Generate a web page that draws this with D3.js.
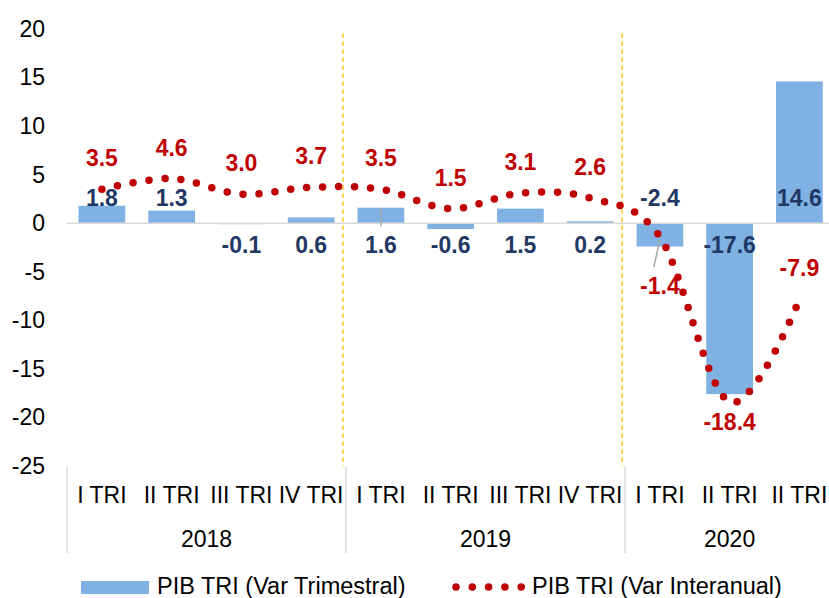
<!DOCTYPE html>
<html>
<head>
<meta charset="utf-8">
<script src="https://cdn.jsdelivr.net/npm/d3@7"></script>
<style>
  body { margin: 0; background: #fff; }
  svg { display: block; font-family: "Liberation Sans", Arial, sans-serif; }
</style>
</head>
<body>
<div id="chart"></div>
<script>

// quarters on the x axis (the last one reads "II TRI" in the original too)
var quarters = ["I TRI", "II TRI", "III TRI", "IV TRI",
                "I TRI", "II TRI", "III TRI", "IV TRI",
                "I TRI", "II TRI", "II TRI"];
var years = ["2018", "2019", "2020"];
var yearOfQuarter = [0, 0, 0, 0, 1, 1, 1, 1, 2, 2, 2];

// PIB TRI (Var Trimestral) - bars
var varTrimestral = [1.8, 1.3, -0.1, 0.6, 1.6, -0.6, 1.5, 0.2, -2.4, -17.6, 14.6];
// PIB TRI (Var Interanual) - dotted line
var varInteranual = [3.5, 4.6, 3.0, 3.7, 3.5, 1.5, 3.1, 2.6, -1.4, -18.4, -7.9];

var yTicks = [20, 15, 10, 5, 0, -5, -10, -15, -20, -25];

// where the labels were dragged to in the original
var barLabelSide  = ["up", "up", "down", "down", "down", "down", "down", "down", "up", "down", "up"];
var lineLabelDy   = [-31, -31, -31, -31, -31, -31, -31, -31, 49, 20, -32];

var width = 829, height = 598;
var plotLeft = 67, plotTop = 29, plotBottom = 466;

var navy = "#1f3864", red = "#c00000", blue = "#80b1e3", grid = "#d9d9d9";

// plain hyphen for negatives, like the original
var fmt = function(d, dec) { return dec ? d.toFixed(dec) : String(d); };

var svg = d3.select("#chart").append("svg").attr("width", width).attr("height", height);

var x = d3.scaleBand()
    .domain(d3.range(quarters.length))
    .range([plotLeft, plotLeft + quarters.length * 69.75])
    .paddingInner(0.33).paddingOuter(0.165);
var step = x.step();
var cx = function(i) { return x(i) + x.bandwidth() / 2; };

var y = d3.scaleLinear().domain([-25, 20]).range([plotBottom, plotTop]);

// y axis labels (no axis line)
var yAxis = d3.axisLeft(y).tickValues(yTicks).tickSize(0).tickPadding(0)
              .tickFormat(function(d) { return fmt(d); });
svg.append("g")
   .attr("transform", "translate(45,0)")
   .call(yAxis)
   .call(function(g) { g.select(".domain").remove(); })
   .selectAll("text")
   .attr("font-size", 23).attr("fill", "#000")
   .attr("font-family", "Liberation Sans, Arial, sans-serif");

// year separators (yellow dashed)
[4, 8].forEach(function(i) {
  var xs = plotLeft + i * step - 3;
  svg.append("line")
     .attr("x1", xs).attr("x2", xs).attr("y1", 33).attr("y2", plotBottom)
     .attr("stroke", "#ffc000").attr("stroke-width", 1.2).attr("stroke-dasharray", "5,3");
});

// bars
svg.selectAll("rect.bar").data(varTrimestral).enter().append("rect")
   .attr("class", "bar")
   .attr("x", function(d, i) { return x(i); })
   .attr("width", x.bandwidth())
   .attr("y", function(d) { return y(Math.max(0, d)); })
   .attr("height", function(d) { return Math.abs(y(d) - y(0)); })
   .attr("fill", blue);

// zero line
svg.append("line")
   .attr("x1", plotLeft).attr("x2", width).attr("y1", y(0)).attr("y2", y(0))
   .attr("stroke", grid).attr("stroke-width", 1.5);

// category axis separators
[0, 4, 8].forEach(function(i) {
  var xs = plotLeft + i * step;
  svg.append("line")
     .attr("x1", xs).attr("x2", xs).attr("y1", plotBottom + 1).attr("y2", 553)
     .attr("stroke", grid).attr("stroke-width", 1.5);
});

// quarter labels
svg.selectAll("text.q").data(quarters).enter().append("text")
   .attr("class", "q")
   .attr("x", function(d, i) { return cx(i); })
   .attr("y", 503)
   .attr("text-anchor", "middle").attr("font-size", 23).attr("fill", "#000")
   .text(function(d) { return d; });

// year labels
svg.selectAll("text.yr").data(years).enter().append("text")
   .attr("class", "yr")
   .attr("x", function(d, j) {
     var idx = d3.range(quarters.length).filter(function(i) { return yearOfQuarter[i] === j; });
     return (plotLeft + idx[0] * step + plotLeft + (idx[idx.length - 1] + 1) * step) / 2;
   })
   .attr("y", 547)
   .attr("text-anchor", "middle").attr("font-size", 23).attr("fill", "#000")
   .text(function(d) { return d; });

// leader lines
svg.append("line").attr("x1", cx(4)).attr("x2", cx(4)).attr("y1", y(1.6)).attr("y2", y(0) + 3)
   .attr("stroke", "#a6a6a6").attr("stroke-width", 1.5);
svg.append("line").attr("x1", cx(8)).attr("x2", cx(8) - 6).attr("y1", y(-1.4) + 3).attr("y2", y(-1.4) + 30)
   .attr("stroke", "#a6a6a6").attr("stroke-width", 1.5);

// interanual dotted smooth line
var line = d3.line()
    .x(function(d, i) { return cx(i); })
    .y(function(d) { return y(d); })
    .curve(d3.curveCardinal.tension(0));

svg.append("path")
   .datum(varInteranual)
   .attr("d", line)
   .attr("fill", "none")
   .attr("stroke", red).attr("stroke-width", 7.5)
   .attr("stroke-linecap", "round").attr("stroke-dasharray", "0,16");

// bar labels
svg.selectAll("text.bl").data(varTrimestral).enter().append("text")
   .attr("class", "bl")
   .attr("x", function(d, i) { return cx(i); })
   .attr("y", function(d, i) { return barLabelSide[i] === "up" ? y(0) - 25 : y(0) + 22; })
   .attr("dy", "0.35em")
   .attr("text-anchor", "middle").attr("font-size", 23).attr("font-weight", "bold")
   .attr("fill", navy)
   .text(function(d) { return fmt(d, 1); });

// line labels
svg.selectAll("text.ll").data(varInteranual).enter().append("text")
   .attr("class", "ll")
   .attr("x", function(d, i) { return cx(i); })
   .attr("y", function(d, i) { return y(d) + lineLabelDy[i]; })
   .attr("dy", "0.35em")
   .attr("text-anchor", "middle").attr("font-size", 23).attr("font-weight", "bold")
   .attr("fill", red)
   .text(function(d) { return fmt(d, 1); });

// legend
var legend = svg.append("g");
legend.append("rect").attr("x", 81).attr("y", 581).attr("width", 68).attr("height", 13).attr("fill", blue);
legend.append("text").attr("x", 157).attr("y", 594).attr("font-size", 23.5).attr("fill", "#000")
      .text("PIB TRI (Var Trimestral)");
legend.append("line").attr("x1", 456).attr("x2", 522).attr("y1", 587).attr("y2", 587)
      .attr("stroke", red).attr("stroke-width", 7.5)
      .attr("stroke-linecap", "round").attr("stroke-dasharray", "0,16.3");
legend.append("text").attr("x", 532).attr("y", 594).attr("font-size", 23.5).attr("fill", "#000")
      .text("PIB TRI (Var Interanual)");

</script>
</body>
</html>
